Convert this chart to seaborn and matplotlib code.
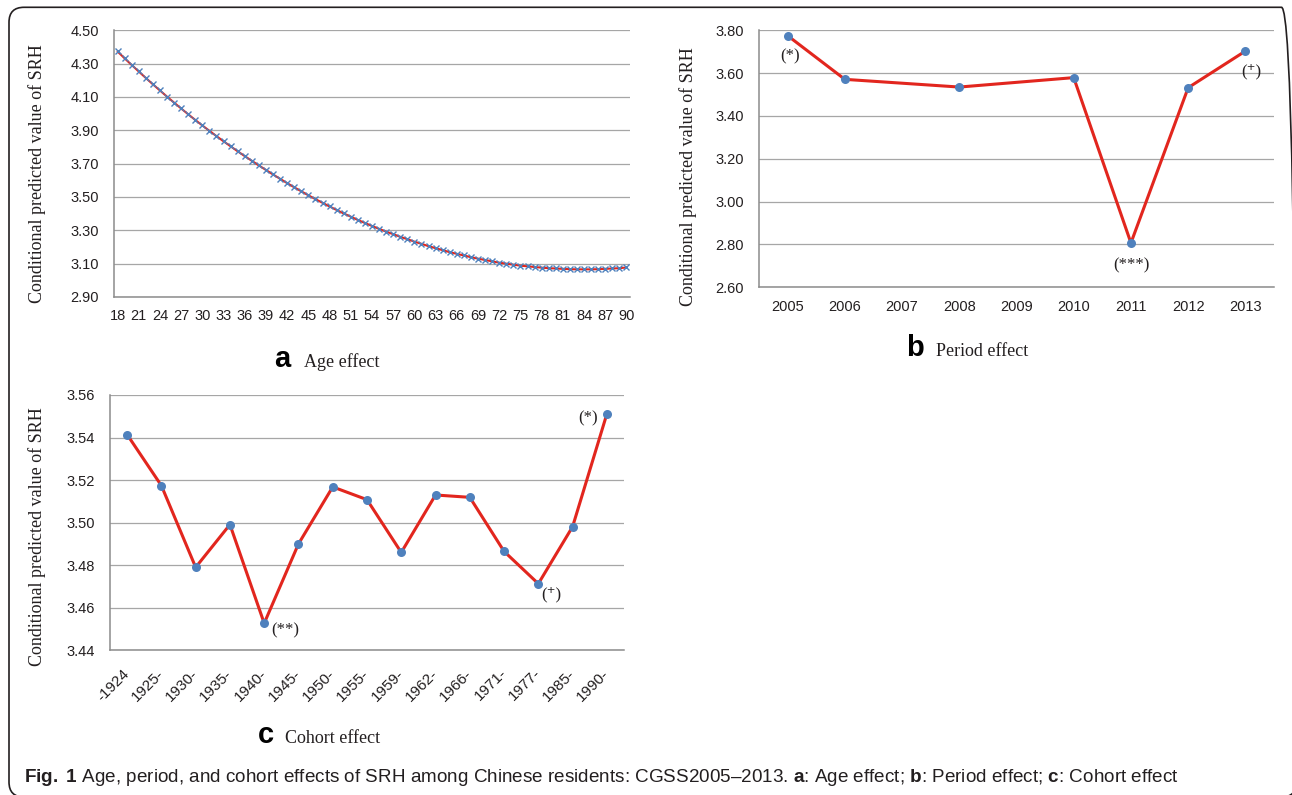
import matplotlib
matplotlib.use("Agg")
import numpy as np
import pandas as pd
import seaborn as sns
import matplotlib.pyplot as plt
from matplotlib.patches import FancyBboxPatch
from matplotlib.ticker import FixedLocator, FormatStrFormatter, NullFormatter

# ---------------- data ----------------
ages = list(range(18, 91))
age_srh = [
    4.373, 4.332, 4.292, 4.253, 4.214, 4.176, 4.139, 4.102, 4.066, 4.031,
    3.996, 3.962, 3.929, 3.897, 3.865, 3.834, 3.804, 3.774, 3.745, 3.717,
    3.689, 3.662, 3.635, 3.609, 3.583, 3.558, 3.534, 3.510, 3.487, 3.465,
    3.443, 3.422, 3.401, 3.382, 3.362, 3.344, 3.326, 3.309, 3.292, 3.277,
    3.261, 3.247, 3.232, 3.219, 3.205, 3.193, 3.181, 3.169, 3.159, 3.149,
    3.139, 3.130, 3.122, 3.114, 3.106, 3.100, 3.094, 3.088, 3.084, 3.080,
    3.076, 3.073, 3.071, 3.069, 3.067, 3.066, 3.066, 3.066, 3.067, 3.069,
    3.071, 3.073, 3.077,
]
age_ticks = list(range(18, 91, 3))
age_yticks = [2.90, 3.10, 3.30, 3.50, 3.70, 3.90, 4.10, 4.30, 4.50]

years = ["2005", "2006", "2007", "2008", "2009", "2010", "2011", "2012", "2013"]
period_years = ["2005", "2006", "2008", "2010", "2011", "2012", "2013"]
period_srh = [3.775, 3.571, 3.535, 3.579, 2.807, 3.532, 3.703]
period_yticks = [2.60, 2.80, 3.00, 3.20, 3.40, 3.60, 3.80]
period_marks = {"2005": "(*)", "2011": "(***)", "2013": "(\u207a)"}

cohorts = ["-1924", "1925-", "1930-", "1935-", "1940-", "1945-", "1950-", "1955-",
           "1959-", "1962-", "1966-", "1971-", "1977-", "1985-", "1990-"]
cohort_srh = [3.5414, 3.5174, 3.4790, 3.4991, 3.4527, 3.4900, 3.5168, 3.5108,
              3.4860, 3.5130, 3.5119, 3.4865, 3.4713, 3.4981, 3.5511]
cohort_yticks = [3.44, 3.46, 3.48, 3.50, 3.52, 3.54, 3.56]
cohort_marks = {"1940-": "(**)", "1977-": "(\u207a)", "1990-": "(*)"}

ylabel = "Conditional predicted value of SRH"

# ---------------- style ----------------
sns.set_style("white")
plt.rcParams["font.family"] = ["Liberation Sans", "DejaVu Sans"]
plt.rcParams["mathtext.fontset"] = "custom"
plt.rcParams["mathtext.rm"] = "Liberation Sans"
plt.rcParams["mathtext.bf"] = "Liberation Sans:bold"
plt.rcParams["mathtext.it"] = "Liberation Sans:italic"

RED = "#E2261E"
BLUE = "#4F81BD"
GRID = "#A6A6A6"
SPINE = "#8C8C8C"
INK = "#231F20"
SERIF = ["Liberation Serif", "DejaVu Serif"]
TICK_FS = 10.5

W, H = 1292, 795
fig = plt.figure(figsize=(W / 100, H / 100), dpi=100)


def axes_px(left, top, right, bottom):
    return fig.add_axes([left / W, 1 - bottom / H, (right - left) / W, (bottom - top) / H])


def style_axes(ax, yticks, label_xy):
    ax.set_ylim(yticks[0], yticks[-1])
    ax.yaxis.set_major_locator(FixedLocator(yticks))
    ax.yaxis.set_major_formatter(FormatStrFormatter("%.2f"))
    ax.yaxis.grid(True, color=GRID, lw=0.9)
    ax.xaxis.grid(False)
    ax.set_axisbelow(True)
    for s in ("top", "right"):
        ax.spines[s].set_visible(False)
    for s in ("left", "bottom"):
        ax.spines[s].set_color(SPINE)
        ax.spines[s].set_linewidth(1.1)
    ax.tick_params(axis="y", which="major", direction="out", length=4, width=0.8,
                   color=SPINE, pad=7, labelsize=TICK_FS, labelcolor=INK)
    ax.tick_params(axis="x", which="major", length=0, pad=9, labelsize=TICK_FS,
                   labelcolor=INK)
    ax.tick_params(axis="x", which="minor", direction="out", length=4, width=0.8,
                   color=SPINE)
    ax.set_xlabel("")
    ax.set_ylabel(ylabel, family=SERIF, fontsize=13, color=INK)
    ax.yaxis.label.set_verticalalignment("center")
    ax.yaxis.set_label_coords(*label_xy)


def panel_title(x_letter_right, x_text_left, y_base, letter, text):
    fig.text(x_letter_right / W, 1 - y_base / H, letter, ha="right", va="baseline",
             fontsize=21, fontweight="bold", color="black")
    fig.text(x_text_left / W, 1 - y_base / H, text, ha="left", va="baseline",
             family=SERIF, fontsize=13, color=INK)


# ---------------- a: age effect ----------------
ax_a = axes_px(114, 30.3, 630, 297)
df_a = pd.DataFrame({"age": ages, "srh": age_srh})
sns.lineplot(data=df_a, x="age", y="srh", ax=ax_a, color=RED, lw=1.5,
             marker="x", markersize=4.5, markeredgewidth=1.0,
             markeredgecolor=BLUE, markerfacecolor=BLUE)
ax_a.set_xlim(ages[0] - 0.5, ages[-1] + 0.5)
ax_a.xaxis.set_major_locator(FixedLocator(age_ticks))
ax_a.set_xticklabels([str(a) for a in age_ticks])
ax_a.xaxis.set_minor_locator(FixedLocator(np.arange(ages[0] - 0.5, ages[-1] + 1, 1)))
ax_a.xaxis.set_minor_formatter(NullFormatter())
style_axes(ax_a, age_yticks, (-0.149, 0.461))
panel_title(290, 304, 367, "a", "Age effect")

# ---------------- b: period effect ----------------
ax_b = axes_px(759, 30.3, 1274, 287.3)
df_b = pd.DataFrame({"pos": [years.index(y) for y in period_years], "srh": period_srh})
sns.lineplot(data=df_b, x="pos", y="srh", ax=ax_b, color=RED, lw=2.2,
             marker="o", markersize=6.5, markeredgewidth=0,
             markerfacecolor=BLUE, markeredgecolor=BLUE)
ax_b.set_xlim(-0.5, len(years) - 0.5)
ax_b.xaxis.set_major_locator(FixedLocator(range(len(years))))
ax_b.set_xticklabels(years)
ax_b.xaxis.set_minor_locator(FixedLocator(np.arange(-0.5, len(years), 1)))
ax_b.xaxis.set_minor_formatter(NullFormatter())
style_axes(ax_b, period_yticks, (-0.138, 0.429))
b_offsets = {"2005": (2, -15), "2011": (0, -16.5), "2013": (4.5, -14.5)}
for yr, txt in period_marks.items():
    v = period_srh[period_years.index(yr)]
    ax_b.annotate(txt, xy=(years.index(yr), v), xytext=b_offsets[yr],
                  textcoords="offset points", ha="center", va="center",
                  family=SERIF, fontsize=12, color=INK)
panel_title(924, 936, 356, "b", "Period effect")

# ---------------- c: cohort effect ----------------
ax_c = axes_px(110, 395, 624, 650.3)
df_c = pd.DataFrame({"pos": range(len(cohorts)), "srh": cohort_srh})
sns.lineplot(data=df_c, x="pos", y="srh", ax=ax_c, color=RED, lw=2.2,
             marker="o", markersize=6.5, markeredgewidth=0,
             markerfacecolor=BLUE, markeredgecolor=BLUE)
ax_c.set_xlim(-0.5, len(cohorts) - 0.5)
ax_c.xaxis.set_major_locator(FixedLocator(range(len(cohorts))))
ax_c.set_xticklabels(cohorts, rotation=45, ha="right", va="center",
                     rotation_mode="anchor")
ax_c.xaxis.set_minor_locator(FixedLocator(np.arange(-0.5, len(cohorts), 1)))
ax_c.xaxis.set_minor_formatter(NullFormatter())
style_axes(ax_c, cohort_yticks, (-0.142, 0.444))
ax_c.tick_params(axis="x", which="major", pad=15, labelsize=11)
c_offsets = {"1940-": (15, -5), "1977-": (9.5, -8), "1990-": (-13.5, -3.5)}
for co, txt in cohort_marks.items():
    i = cohorts.index(co)
    ax_c.annotate(txt, xy=(i, cohort_srh[i]), xytext=c_offsets[co],
                  textcoords="offset points", ha="center", va="center",
                  family=SERIF, fontsize=12, color=INK)
panel_title(274, 285, 743, "c", "Cohort effect")

# ---------------- caption and frame ----------------
caption = (r"$\mathbf{Fig.\ 1}$ Age, period, and cohort effects of SRH among Chinese "
           r"residents: CGSS2005–2013. $\mathbf{a}$: Age effect; $\mathbf{b}$: Period "
           r"effect; $\mathbf{c}$: Cohort effect")
fig.text(24 / W, 1 - 777 / H, caption, ha="left", va="center", fontsize=13.6, color=INK)

frame = FancyBboxPatch((0.09, -0.02), 12.965 - 0.09, 7.877 + 0.02,
                       boxstyle="round,pad=0,rounding_size=0.15",
                       transform=fig.dpi_scale_trans, fill=False,
                       ec=INK, lw=1.2, clip_on=False)
fig.add_artist(frame)

fig.savefig("out.png", dpi=100)
